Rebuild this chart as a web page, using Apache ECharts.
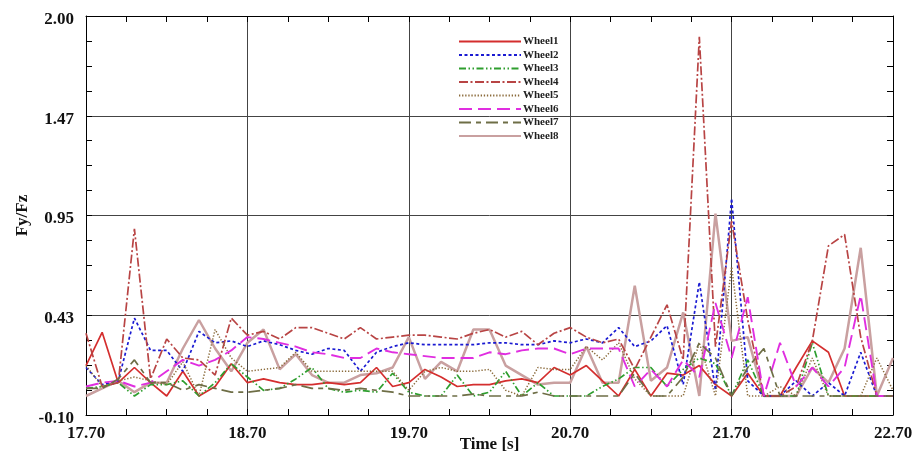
<!DOCTYPE html>
<html>
<head>
<meta charset="utf-8">
<script src="https://cdn.jsdelivr.net/npm/echarts@6/dist/echarts.min.js"></script>
<style>
html,body{margin:0;padding:0;background:#fff;}
#chart{width:914px;height:454px;}
</style>
</head>
<body>
<div id="chart"></div>
<script>
const times = [17.7,17.8,17.9,18.0,18.1,18.2,18.3,18.4,18.5,18.6,18.7,18.8,18.9,19.0,19.1,19.2,19.3,19.4,19.5,19.6,19.7,19.8,19.9,20.0,20.1,20.2,20.3,20.4,20.5,20.6,20.7,20.8,20.9,21.0,21.1,21.2,21.3,21.4,21.5,21.6,21.7,21.8,21.9,22.0,22.1,22.2,22.3,22.4,22.5,22.6,22.7];
const seriesNames = ['Wheel1','Wheel2','Wheel3','Wheel4','Wheel5','Wheel6','Wheel7','Wheel8'];
const wheel1 = [0.16,0.335,0.07,0.15,0.07,0.0,0.13,0.0,0.05,0.17,0.07,0.09,0.07,0.06,0.06,0.07,0.06,0.07,0.15,0.05,0.07,0.14,0.10,0.05,0.06,0.06,0.08,0.09,0.07,0.15,0.11,0.16,0.08,0.0,0.14,0.0,0.12,0.11,0.16,0.06,0.0,0.12,0.0,0.0,0.15,0.29,0.23,0.0,0.0,0.0,0.0];
const wheel2 = [0.15,0.06,0.08,0.41,0.24,0.24,0.13,0.34,0.28,0.29,0.26,0.29,0.27,0.24,0.22,0.25,0.24,0.13,0.23,0.26,0.28,0.27,0.27,0.27,0.27,0.28,0.28,0.27,0.27,0.29,0.28,0.30,0.28,0.36,0.26,0.29,0.37,0.06,0.60,0.03,1.04,0.08,0.0,0.0,0.08,0.0,0.07,0.0,0.23,0.0,0.0];
const wheel3 = [0.04,0.05,0.07,0.0,0.06,0.06,0.08,0.0,0.07,0.17,0.10,0.03,0.04,0.09,0.15,0.04,0.02,0.03,0.02,0.12,0.02,0.0,0.0,0.11,0.0,0.02,0.13,0.0,0.07,0.0,0.0,0.0,0.05,0.09,0.15,0.15,0.05,0.14,0.20,0.17,0.0,0.19,0.0,0.0,0.0,0.28,0.0,0.0,0.0,0.0,0.0];
const wheel4 = [0.33,0.05,0.07,0.88,0.09,0.30,0.20,0.19,0.11,0.41,0.32,0.34,0.30,0.36,0.36,0.33,0.30,0.36,0.30,0.31,0.32,0.32,0.31,0.30,0.33,0.35,0.31,0.34,0.27,0.33,0.36,0.31,0.28,0.30,0.14,0.31,0.48,0.19,1.89,0.26,0.92,0.40,0.0,0.0,0.05,0.29,0.79,0.85,0.31,0.0,0.0];
const wheel5 = [0.16,0.05,0.08,0.10,0.08,0.06,0.18,0.0,0.35,0.20,0.13,0.14,0.15,0.23,0.13,0.13,0.13,0.13,0.13,0.13,0.03,0.13,0.15,0.13,0.13,0.14,0.03,0.0,0.15,0.14,0.14,0.26,0.19,0.28,0.09,0.0,0.0,0.0,0.28,0.0,0.68,0.0,0.0,0.05,0.0,0.20,0.0,0.0,0.0,0.20,0.03];
const wheel6 = [0.05,0.07,0.08,0.05,0.07,0.13,0.19,0.16,0.19,0.24,0.31,0.30,0.28,0.26,0.23,0.22,0.20,0.20,0.25,0.23,0.22,0.21,0.20,0.20,0.20,0.23,0.22,0.24,0.25,0.25,0.22,0.25,0.25,0.25,0.05,0.14,0.05,0.19,0.10,0.49,0.20,0.52,0.0,0.28,0.05,0.15,0.05,0.15,0.53,0.0,0.0];
const wheel7 = [0.04,0.04,0.09,0.19,0.07,0.07,0.03,0.06,0.04,0.02,0.02,0.03,0.04,0.06,0.04,0.04,0.03,0.04,0.03,0.02,0.0,0.0,0.0,0.0,0.01,0.0,0.0,0.0,0.02,0.0,0.0,0.0,0.0,0.0,0.12,0.0,0.0,0.10,0.28,0.20,0.0,0.15,0.25,0.0,0.0,0.0,0.0,0.0,0.0,0.0,0.0];
const wheel8 = [0.0,0.04,0.08,0.02,0.07,0.07,0.25,0.40,0.25,0.13,0.28,0.35,0.14,0.22,0.11,0.07,0.07,0.11,0.12,0.15,0.31,0.09,0.18,0.13,0.35,0.35,0.16,0.11,0.06,0.07,0.07,0.26,0.07,0.07,0.58,0.08,0.15,0.44,0.0,0.96,0.29,0.31,0.0,0.0,0.0,0.15,0.07,0.25,0.78,0.0,0.20];
const xTickLabels = ['17.70','18.70','19.70','20.70','21.70','22.70'];
const yTickLabels = ['-0.10','0.43','0.95','1.47','2.00'];

const allValues = [wheel1,wheel2,wheel3,wheel4,wheel5,wheel6,wheel7,wheel8];
const styles = [
  {color:'#d42e2e', width:1.7, type:'solid'},
  {color:'#1a1ad2', width:1.7, type:[3,2.5]},
  {color:'#2e9e2e', width:1.7, type:[7,2.5,1.5,2.5,1.5,2.5]},
  {color:'#b84444', width:1.7, type:[9,2.5,2,2.5]},
  {color:'#8a6a3a', width:1.5, type:[1.3,1.8]},
  {color:'#e02ee0', width:1.9, type:[13,6]},
  {color:'#6e6e46', width:1.7, type:[12,5,5,5]},
  {color:'#c9a0a0', width:2.5, type:'solid'}
];

const xMin = 17.7, xMax = 22.7, xInt = 1;
const yMin = -0.1, yMax = 2.0, yInt = 0.525;
const font = 'Liberation Serif';

function xFmt(v){ const i = Math.round((v - xMin)/xInt); return xTickLabels[i] !== undefined ? xTickLabels[i] : ''; }
function yFmt(v){ const i = Math.round((v - yMin)/yInt); return yTickLabels[i] !== undefined ? '{a|' + yTickLabels[i] + '}' : ''; }

const labelStyle = {color:'#111', fontFamily:font, fontWeight:'bold', fontSize:17};

const chart = echarts.init(document.getElementById('chart'), null, {renderer:'canvas'});
chart.setOption({
  animation:false,
  backgroundColor:'#fff',
  grid:{left:86, right:21, top:16, bottom:39, containLabel:false, outerBoundsMode:'none'},
  legend:{
    orient:'vertical', left:453, top:31,
    itemWidth:62, itemHeight:10, itemGap:2.5,
    data:seriesNames,
    itemStyle:{opacity:0},
    textStyle:{color:'#222', fontFamily:font, fontWeight:'bold', fontSize:11, padding:[0,0,0,-3]}
  },
  xAxis:[
    {type:'value', min:xMin, max:xMax, interval:xInt, position:'bottom',
     name:'Time [s]', nameLocation:'middle', nameGap:21, nameMoveOverlap:false,
     nameTextStyle:{color:'#111', fontFamily:font, fontWeight:'bold', fontSize:17},
     axisLine:{show:true, onZero:false, lineStyle:{color:'#000', width:1}},
     axisTick:{show:true, inside:true, length:6, lineStyle:{color:'#000'}},
     minorTick:{show:true, splitNumber:4, length:6, lineStyle:{color:'#000'}},
     axisLabel:Object.assign({margin:10, formatter:xFmt}, labelStyle),
     splitLine:{show:true, lineStyle:{color:'#444', width:1}}
    },
    {type:'value', min:xMin, max:xMax, interval:xInt, position:'top',
     axisLine:{show:true, onZero:false, lineStyle:{color:'#000', width:1}},
     axisTick:{show:true, inside:true, length:6, lineStyle:{color:'#000'}},
     minorTick:{show:true, splitNumber:4, length:6, lineStyle:{color:'#000'}},
     axisLabel:{show:false}, splitLine:{show:false}
    }
  ],
  yAxis:[
    {type:'value', min:yMin, max:yMax, interval:yInt, position:'left',
     name:'Fy/Fz', nameLocation:'middle', nameGap:55, nameMoveOverlap:false,
     nameTextStyle:{color:'#111', fontFamily:font, fontWeight:'bold', fontSize:17},
     axisLine:{show:true, onZero:false, lineStyle:{color:'#000', width:1}},
     axisTick:{show:true, inside:true, length:6, lineStyle:{color:'#000'}},
     minorTick:{show:true, splitNumber:4, length:6, lineStyle:{color:'#000'}},
     axisLabel:Object.assign({margin:12, formatter:yFmt,
       rich:{a:{color:'#111', fontFamily:font, fontWeight:'bold', fontSize:17, padding:[7,0,0,0]}}}, labelStyle),
     splitLine:{show:true, lineStyle:{color:'#444', width:1}}
    },
    {type:'value', min:yMin, max:yMax, interval:yInt, position:'right',
     axisLine:{show:true, onZero:false, lineStyle:{color:'#000', width:1}},
     axisTick:{show:true, inside:true, length:6, lineStyle:{color:'#000'}},
     minorTick:{show:true, splitNumber:4, length:6, lineStyle:{color:'#000'}},
     axisLabel:{show:false}, splitLine:{show:false}
    }
  ],
  series: seriesNames.map((name, k) => ({
    name: name,
    type:'line',
    xAxisIndex:0, yAxisIndex:0,
    showSymbol:false, symbol:'none',
    data: times.map((t, i) => [t, allValues[k][i]]),
    lineStyle:{color:styles[k].color, width:styles[k].width, type:styles[k].type},
    itemStyle:{color:styles[k].color},
    z: k === 7 ? 1 : 2 + k
  }))
});
</script>
</body>
</html>
